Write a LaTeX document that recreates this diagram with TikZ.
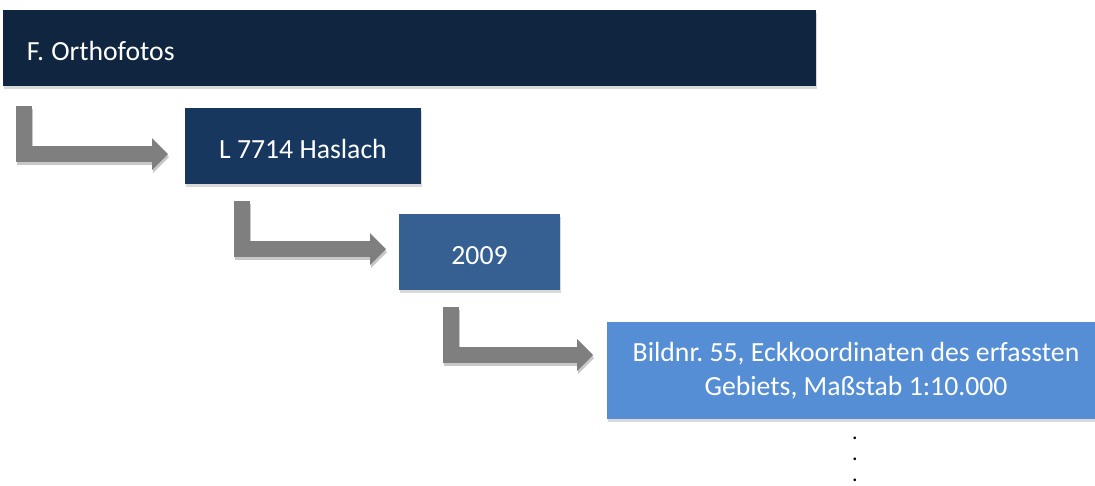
\documentclass[tikz,border=0pt]{standalone}
\usepackage{fontspec}
\setmainfont{Carlito}
\frenchspacing
\usetikzlibrary{arrows.meta,shadows}
\definecolor{navyA}{HTML}{10253F}
\definecolor{navyB}{HTML}{17375E}
\definecolor{navyC}{HTML}{366092}
\definecolor{navyD}{HTML}{558ED5}
\definecolor{arrowgray}{HTML}{7F7F7F}
\begin{document}
\begin{tikzpicture}[x=1pt,y=-1pt,
  box/.style={fill=#1, text=white, inner sep=0pt, rectangle,
    font=\fontsize{27.7}{33.5}\selectfont,
    drop shadow={shadow xshift=1pt, shadow yshift=-3pt, opacity=0.3}},
  oneline/.style={text height=24pt, text depth=0pt},
  bent/.style={line width=16pt, draw=arrowgray, line join=miter, line cap=butt,
    -{Triangle[width=32pt,length=16pt,line width=0pt]}},
  bentshadow/.style={bent, draw=black, opacity=0.22,
    transform canvas={shift={(1pt,-3pt)}}},
  dotstyle/.style={font=\fontsize{22}{21}\selectfont, align=center, inner sep=0pt, text=black}
]
\useasboundingbox (0,0) rectangle (1095,485);
\clip (0,0) rectangle (1095,485);
% boxes
\node[box=navyA, oneline, minimum width=813pt, minimum height=76pt, text width=765pt,
      inner xsep=24pt, align=left] (top) at (409.5,48) {F.\kern-2pt{} Orthofotos};
\node[box=navyB, oneline, minimum width=236pt, minimum height=76pt] (b2) at (303,146) {L 7714 Haslach};
\node[box=navyC, oneline, minimum width=161pt, minimum height=76pt] (b3) at (479.5,252) {2009};
\node[box=navyD, minimum width=498pt, minimum height=97pt, align=center] (b4) at (856,370.5)
  {\raisebox{-2pt}{Bildnr. 55, Eckkoordinaten des erfassten}\\\raisebox{-2pt}{Gebiets, Maßstab 1:10.000}};
% connector end points
\coordinate (a1s) at (24,106);  \coordinate (a1e) at (168,154);
\coordinate (a2s) at (242,201); \coordinate (a2e) at (386,249);
\coordinate (a3s) at (451,307); \coordinate (a3e) at (593,355);
% shadows of bent arrows
\draw[bentshadow] (a1s) |- (a1e);
\draw[bentshadow] (a2s) |- (a2e);
\draw[bentshadow] (a3s) |- (a3e);
% bent arrows
\draw[bent] (a1s) |- (a1e);
\draw[bent] (a2s) |- (a2e);
\draw[bent] (a3s) |- (a3e);
% continuation dots
\node[dotstyle, anchor=south] (dots) at (855,482) {.\\.\\.};
\end{tikzpicture}
\end{document}
